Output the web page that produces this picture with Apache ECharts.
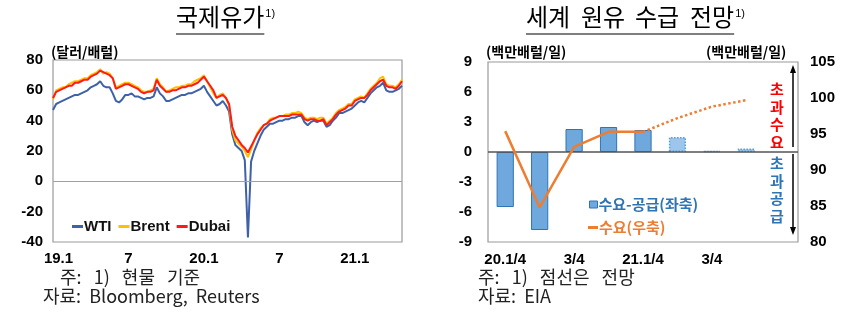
<!DOCTYPE html>
<html><head><meta charset="utf-8">
<script src="https://cdn.jsdelivr.net/npm/echarts@6/dist/echarts.min.js"></script>
<style>html,body{margin:0;padding:0;background:#fff}#c{width:853px;height:317px}</style>
</head><body><div id="c"></div>
<script>
// ---------- Left chart: 국제유가 (4 points per month, 2019.1 ~ 2021.4) ----------
const startYear = 2019, monthsCount = 28, perMonth = 4;
const wti = [
 47,51,52,53, 54,55,56,57, 57,58,59,60, 62,63,64,66, 63,62,62,58, 53,52,54,57,
 57,58,56,56, 55,54,55,55, 56,62,58,56, 53,53,54,55, 56,57,57,58, 58,59,60,61,
 63,59,56,53, 50,51,53,50, 46,31,24,22, 20,14,-37,13, 20,25,30,34, 36,38,38,39,
 40,40,41,41, 42,42,43,43, 39,37,39,40, 39,40,40,36, 37,40,42,45, 45,46,47,48,
 50,52,53,52, 55,58,60,62, 63,65,60,59, 59,60,61,63];
const brent = [
 54,60,61,62, 62,64,65,66, 66,67,68,68, 70,71,72,74, 71,72,71,68, 62,63,64,65,
 65,64,63,62, 60,59,59,60, 61,68,64,62, 59,60,61,62, 62,63,63,64, 64,66,67,68,
 70,66,62,58, 55,57,58,55, 50,34,27,25, 23,20,16,21, 27,32,35,37, 38,41,42,42,
 43,43,44,44, 45,45,46,45, 42,41,42,42, 41,42,42,38, 40,42,45,47, 48,49,51,51,
 54,55,56,55, 58,61,63,65, 68,69,64,63, 63,62,64,67];
const dubai = [
 55,59,60,61, 62,63,63,65, 65,66,67,67, 69,70,71,73, 72,71,70,68, 61,62,63,64,
 64,63,62,61, 59,58,59,59, 60,67,63,61, 59,59,60,60, 61,62,62,63, 63,64,65,67,
 69,66,63,60, 55,56,57,55, 51,36,30,27, 24,22,19,23, 27,31,34,37, 38,40,41,42,
 43,43,43,43, 44,44,44,44, 41,40,41,41, 40,40,41,37, 39,41,44,46, 47,48,50,50,
 53,54,55,55, 57,60,62,64, 66,67,63,62, 62,61,63,66];
const priceTicks = [-40,-20,0,20,40,60,80];
const labelMonths = [1,7];

const days = [];
for (let m = 0; m < monthsCount; m++) {
  const y = startYear + Math.floor(m / 12), mo = m % 12 + 1;
  for (let w = 1; w <= perMonth; w++) days.push(y + '-' + mo + '-' + w);
}

// ---------- Right chart: 세계 원유 수급 전망 ----------
const quarters = ['20.1/4','2/4','3/4','4/4','21.1/4','2/4','3/4','4/4',''];
const balance = [-5.5,-7.8,2.3,2.5,2.2,1.5,0.1,0.35];
const forecastFrom = 5;
const demandActual = [95.4,84.8,93.2,95.3,95.3];
const demandForecast = [null,null,null,null,95.3,97.2,98.8,99.7];

const BOLD = 'Liberation Sans';
const KR = 'Noto Sans CJK KR';
const TITLE_FONT = '24px "Noto Sans CJK KR"';

const ctx = document.createElement('canvas').getContext('2d');
function tw(text, font) { ctx.font = font; return ctx.measureText(text).width; }

const barData = balance.map((v, i) => i >= forecastFrom ? {
  value: v, itemStyle: {color: '#9dc6ea', borderColor: '#5b9bd5', borderType: 'dotted', borderWidth: 1.5}
} : v);

// title pieces
const leftTitleW = tw('국제유가', TITLE_FONT);
const rightWords = ['세계', '원유', '수급', '전망'];
const rightWordX = [526, 581, 635, 690];
const lastW = tw('전망', TITLE_FONT);
const titleGraphics = [
  {type: 'text', left: 176, top: 5, style: {text: '국제유가', font: TITLE_FONT, fill: '#000'}},
  {type: 'text', left: 176 + leftTitleW + 1, top: 8, style: {text: '1)', font: '11px "Liberation Sans"', fill: '#000'}},
  {type: 'line', shape: {x1: 176, y1: 34, x2: 176 + leftTitleW, y2: 34}, style: {stroke: '#000', lineWidth: 1.2}},
  {type: 'text', left: rightWordX[3] + lastW + 1, top: 8, style: {text: '1)', font: '11px "Liberation Sans"', fill: '#000'}},
  {type: 'line', shape: {x1: 526, y1: 34, x2: rightWordX[3] + lastW, y2: 34}, style: {stroke: '#000', lineWidth: 1.2}}
];
rightWords.forEach((w, i) => titleGraphics.push(
  {type: 'text', left: rightWordX[i], top: 5, style: {text: w, font: TITLE_FONT, fill: '#000'}}));

const chart = echarts.init(document.getElementById('c'));
chart.setOption({
  animation: false,
  grid: [
    {left: 53, top: 60, width: 349, height: 182, show: true, borderColor: '#9a9a9a', borderWidth: 1.2, backgroundColor: 'transparent'},
    {left: 488, top: 62, width: 310, height: 180, show: true, borderColor: '#9a9a9a', borderWidth: 1.2, backgroundColor: 'transparent'}
  ],
  xAxis: [
    {type: 'category', gridIndex: 0, data: days, boundaryGap: false,
     axisLine: {show: false}, axisTick: {show: false},
     axisLabel: {
       interval: 0, margin: 9, color: '#000', fontFamily: BOLD, fontWeight: 'bold', fontSize: 15,
       rich: {f: {fontFamily: BOLD, fontWeight: 'bold', fontSize: 15, color: '#000', padding: [0, 0, 0, 11]}},
       formatter: function (v, idx) {
         const p = v.split('-'); const mo = +p[1];
         if (p[2] !== '1' || labelMonths.indexOf(mo) < 0) return '';
         const s = mo === 1 ? (p[0].slice(2) + '.1') : String(mo);
         return idx === 0 ? '{f|' + s + '}' : s;
       }
     }},
    {type: 'category', gridIndex: 1, data: quarters,
     axisLine: {show: false}, axisTick: {show: false},
     axisLabel: {interval: 1, margin: 10, color: '#000', fontFamily: BOLD, fontWeight: 'bold', fontSize: 15}}
  ],
  yAxis: [
    {type: 'value', gridIndex: 0, min: -40, max: 80, interval: 20,
     axisLine: {show: false}, axisTick: {show: false}, splitLine: {show: false},
     axisLabel: {margin: 10, color: '#000', fontFamily: BOLD, fontWeight: 'bold', fontSize: 15,
       formatter: v => priceTicks.indexOf(v) >= 0 ? String(v) : ''}},
    {type: 'value', gridIndex: 1, min: -9, max: 9, interval: 3,
     axisLine: {show: false}, axisTick: {show: false}, splitLine: {show: false},
     axisLabel: {margin: 16, color: '#000', fontFamily: BOLD, fontWeight: 'bold', fontSize: 15}},
    {type: 'value', gridIndex: 1, position: 'right', min: 80, max: 105, interval: 5,
     axisLine: {show: false}, axisTick: {show: false}, splitLine: {show: false},
     axisLabel: {margin: 12, color: '#000', fontFamily: BOLD, fontWeight: 'bold', fontSize: 15}}
  ],
  legend: [
    {left: 67, top: 214, itemWidth: 11, itemHeight: 3, itemGap: 7, icon: 'rect',
     textStyle: {fontFamily: BOLD, fontWeight: 'bold', fontSize: 15, color: '#111', padding: [0, 0, 0, -4]},
     data: ['WTI', 'Brent', 'Dubai']},
    {left: 584, top: 192, itemWidth: 8, itemHeight: 7, icon: 'rect',
     textStyle: {fontFamily: KR, fontWeight: 'bold', fontSize: 15, color: '#2e75b6', padding: [0, 0, 0, -4]},
     data: [{name: '수요-공급(좌축)', itemStyle: {color: '#6fa8dc', borderColor: '#2e75b6', borderWidth: 1}}]},
    {left: 583, top: 215, itemWidth: 10, itemHeight: 3, icon: 'rect',
     textStyle: {fontFamily: KR, fontWeight: 'bold', fontSize: 15, color: '#ed7d31', padding: [0, 0, 0, -4]},
     data: ['수요(우축)']}
  ],
  series: [
    {name: 'WTI', type: 'line', xAxisIndex: 0, yAxisIndex: 0, data: wti, showSymbol: false,
     lineStyle: {color: '#3f61a8', width: 2}, itemStyle: {color: '#3f61a8'},
     markLine: {silent: true, symbol: 'none', label: {show: false},
       lineStyle: {color: '#a0a0a0', width: 1, type: 'solid'}, data: [{yAxis: 0}]}},
    {name: 'Brent', type: 'line', xAxisIndex: 0, yAxisIndex: 0, data: brent, showSymbol: false,
     lineStyle: {color: '#ffc000', width: 2}, itemStyle: {color: '#ffc000'}},
    {name: 'Dubai', type: 'line', xAxisIndex: 0, yAxisIndex: 0, data: dubai, showSymbol: false,
     lineStyle: {color: '#ff1a1a', width: 2}, itemStyle: {color: '#ff1a1a'}},
    {name: '수요-공급(좌축)', type: 'bar', xAxisIndex: 1, yAxisIndex: 1, data: barData, barWidth: '50%',
     itemStyle: {color: '#6fa8dc', borderColor: '#2e75b6', borderWidth: 1},
     markLine: {silent: true, symbol: 'none', label: {show: false},
       lineStyle: {color: '#555', width: 1.5, type: 'solid'}, data: [{yAxis: 0}]}},
    {name: '수요(우축)', type: 'line', xAxisIndex: 1, yAxisIndex: 2, data: demandActual, showSymbol: false,
     lineStyle: {color: '#ed7d31', width: 2.5}, itemStyle: {color: '#ed7d31'}, z: 5},
    {name: '수요전망', type: 'line', xAxisIndex: 1, yAxisIndex: 2, data: demandForecast, showSymbol: false,
     lineStyle: {color: '#ed7d31', width: 2.5, type: 'dotted'}, itemStyle: {color: '#ed7d31'}, z: 5}
  ],
  graphic: titleGraphics.concat([
    // axis units
    {type: 'text', left: 51, top: 45, style: {text: '(달러/배럴)', font: 'bold 14px "Noto Sans CJK KR"', fill: '#000'}},
    {type: 'text', left: 486, top: 45, style: {text: '(백만배럴/일)', font: 'bold 14px "Noto Sans CJK KR"', fill: '#000'}},
    {type: 'text', left: 706, top: 45, style: {text: '(백만배럴/일)', font: 'bold 14px "Noto Sans CJK KR"', fill: '#000'}},
    // excess demand / supply annotations
    {type: 'text', left: 770, top: 81, style: {text: '초\n과\n수\n요', font: 'bold 15px "Noto Sans CJK KR"', fill: '#ff0000', lineHeight: 17.5}},
    {type: 'text', left: 770, top: 155, style: {text: '초\n과\n공\n급', font: 'bold 15px "Noto Sans CJK KR"', fill: '#2e75b6', lineHeight: 17.5}},
    {type: 'line', shape: {x1: 793, y1: 71, x2: 793, y2: 147}, style: {stroke: '#000', lineWidth: 1.5}},
    {type: 'polygon', shape: {points: [[793, 65], [790, 73], [796, 73]]}, style: {fill: '#000'}},
    {type: 'line', shape: {x1: 793, y1: 154, x2: 793, y2: 229}, style: {stroke: '#000', lineWidth: 1.5}},
    {type: 'polygon', shape: {points: [[793, 235], [790, 227], [796, 227]]}, style: {fill: '#000'}},
    // footnotes
    {type: 'text', left: 60, top: 268, style: {text: '주:   1)   현물   기준', font: '18px "Noto Sans CJK KR"', fill: '#222'}},
    {type: 'text', left: 43, top: 287, style: {text: '자료:  Bloomberg,  Reuters', font: '18px "Noto Sans CJK KR"', fill: '#222'}},
    {type: 'text', left: 478, top: 268, style: {text: '주:   1)   점선은   전망', font: '18px "Noto Sans CJK KR"', fill: '#222'}},
    {type: 'text', left: 478, top: 287, style: {text: '자료:  EIA', font: '18px "Noto Sans CJK KR"', fill: '#222'}}
  ])
});
</script></body></html>
